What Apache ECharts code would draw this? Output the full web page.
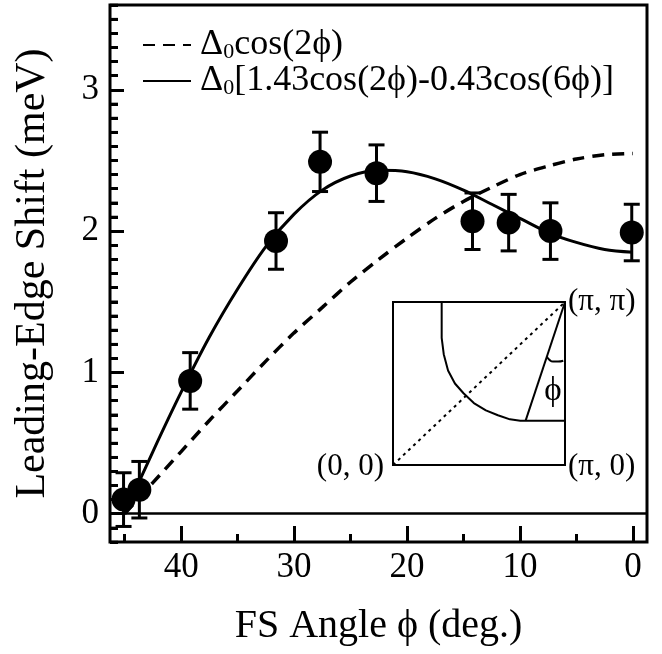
<!DOCTYPE html>
<html>
<head>
<meta charset="utf-8">
<script src="https://cdn.jsdelivr.net/npm/echarts@6/dist/echarts.min.js"></script>
<style>
  html, body { margin: 0; padding: 0; background: #fff; }
  #chart { width: 662px; height: 654px; }
</style>
</head>
<body>
<div id="chart"></div>
<script>
// measured points (FS angle in deg, leading-edge shift in meV)
const fsAngle = [45.1, 43.7, 39.2, 31.6, 27.7, 22.7, 14.2, 11.0, 7.3, 0.1];
const shift = [0.10, 0.17, 0.94, 1.93, 2.49, 2.41, 2.07, 2.06, 2.00, 1.99];
const shiftErr = [0.19, 0.20, 0.20, 0.20, 0.21, 0.20, 0.20, 0.20, 0.20, 0.20];

// fitted curves
const curveAngle = [45, 42.5, 40, 37.5, 35, 32.5, 30, 27.5, 25, 22.5, 20, 17.5, 15, 12.5, 10, 7.5, 5, 2.5, 0];
const dwaveShift = [0, 0.22, 0.44, 0.66, 0.87, 1.08, 1.28, 1.46, 1.64, 1.80, 1.95, 2.09, 2.21, 2.31, 2.40, 2.46, 2.51, 2.54, 2.55];
const mixedShift = [0, 0.44, 0.86, 1.25, 1.59, 1.89, 2.12, 2.29, 2.39, 2.43, 2.42, 2.37, 2.29, 2.19, 2.09, 1.99, 1.92, 1.87, 1.85];

const xMajor = [0, 10, 20, 30, 40];
const xMinor = [5, 15, 25, 35, 45];
const yMajor = [0, 1, 2, 3];

// inset: quarter of the zone, in units of pi
const fsX = [0.283, 0.283, 0.295, 0.32, 0.36, 0.41, 0.47, 0.54, 0.61, 0.68, 0.74, 1.0];
const fsY = [1.0, 0.78, 0.68, 0.58, 0.50, 0.44, 0.38, 0.335, 0.305, 0.28, 0.272, 0.272];
const diagX = [0, 1];
const diagY = [0, 1];
const phiX = [1, 0.771];
const phiY = [1, 0.272];
const arcX = [0.895, 0.91, 0.93, 0.96, 0.99];
const arcY = [0.665, 0.645, 0.635, 0.635, 0.64];

const FONT = '"Liberation Serif", "Times New Roman", serif';
const zip = (a, b) => a.map((v, i) => [v, b[i]]);

const NAME_D = 'Δ0cos(2ϕ)';
const NAME_M = 'Δ0[1.43cos(2ϕ)-0.43cos(6ϕ)]';

const X_MIN = -1.25, X_MAX = 46.3;
const Y_MIN = -0.2, Y_MAX = 3.6;
const plotBox = { left: 110, top: 5, right: 15, bottom: 112 };

// short left-edge ticks every 0.1 meV
const yMinor = [];
for (let i = -2; i <= 36; i++) {
  if (i % 10 !== 0) yMinor.push(i / 10);
}

const chart = echarts.init(document.getElementById('chart'));

const option = {
  animation: false,
  backgroundColor: '#fff',
  legend: {
    orient: 'vertical',
    left: 137,
    top: 22,
    itemWidth: 48,
    itemHeight: 14,
    itemGap: 0,
    selectedMode: false,
    itemStyle: { opacity: 0 },
    data: [NAME_D, NAME_M],
    formatter: function (name) {
      return '{a|Δ}{s|0}{a|' + name.slice(2) + '}';
    },
    textStyle: {
      padding: [0, 0, 0, 4],
      rich: {
        a: { fontFamily: FONT, fontSize: 36, lineHeight: 36, color: '#000' },
        s: { fontFamily: FONT, fontSize: 22, lineHeight: 12, verticalAlign: 'bottom', color: '#000' }
      }
    }
  },
  grid: [
    Object.assign({ show: true, borderColor: '#000', borderWidth: 3 }, plotBox),
    { left: 393, top: 302, width: 172, height: 163, show: true, borderColor: '#000', borderWidth: 2 },
    // same box again, carrying the extra set of ticks
    Object.assign({ show: false }, plotBox)
  ],
  xAxis: [
    {
      type: 'value', gridIndex: 0, inverse: true, min: X_MIN, max: X_MAX,
      axisLine: { show: false, onZero: false },
      splitLine: { show: false },
      axisTick: { inside: true, length: 16, customValues: xMajor, lineStyle: { color: '#000', width: 3 } },
      axisLabel: { customValues: xMajor, fontFamily: FONT, fontSize: 35, color: '#000', margin: 8 },
      name: 'FS Angle ϕ (deg.)',
      nameLocation: 'middle',
      nameGap: 64,
      nameTextStyle: { fontFamily: FONT, fontSize: 40, color: '#000' }
    },
    { type: 'value', gridIndex: 1, min: 0, max: 1, show: false },
    {
      type: 'value', gridIndex: 2, inverse: true, min: X_MIN, max: X_MAX,
      axisLine: { show: false, onZero: false },
      splitLine: { show: false },
      axisTick: { inside: true, length: 8, customValues: xMinor, lineStyle: { color: '#000', width: 3 } },
      axisLabel: { show: false }
    }
  ],
  yAxis: [
    {
      type: 'value', gridIndex: 0, min: Y_MIN, max: Y_MAX, interval: 0.1,
      axisLine: { show: false, onZero: false },
      splitLine: { show: false },
      axisTick: { show: true, inside: true, length: 8, interval: 0, lineStyle: { color: '#000', width: 3 } },
      axisLabel: { customValues: yMajor, fontFamily: FONT, fontSize: 35, color: '#000', margin: 11 },
      name: 'Leading-Edge Shift (meV)',
      nameLocation: 'middle',
      nameGap: 56,
      nameTextStyle: { fontFamily: FONT, fontSize: 42, color: '#000' }
    },
    { type: 'value', gridIndex: 1, min: 0, max: 1, show: false },
    {
      type: 'value', gridIndex: 2, min: Y_MIN, max: Y_MAX,
      axisLine: { show: false, onZero: false },
      splitLine: { show: false },
      axisTick: { show: true, inside: true, length: 14, customValues: yMajor, lineStyle: { color: '#000', width: 3 } },
      axisLabel: { show: false }
    }
  ],
  series: [
    {
      name: NAME_D,
      type: 'line',
      xAxisIndex: 0, yAxisIndex: 0,
      data: zip(curveAngle, dwaveShift),
      symbol: 'none',
      smooth: 0.3,
      lineStyle: { color: '#000', width: 3.5, type: [12, 8] },
      itemStyle: { color: '#000' }
    },
    {
      name: NAME_M,
      type: 'line',
      xAxisIndex: 0, yAxisIndex: 0,
      data: zip(curveAngle, mixedShift),
      symbol: 'none',
      smooth: 0.3,
      lineStyle: { color: '#000', width: 3 },
      itemStyle: { color: '#000' },
      markLine: {
        silent: true,
        symbol: ['none', 'none'],
        label: { show: false },
        lineStyle: { color: '#000', width: 2.5, type: 'solid' },
        data: [{ yAxis: 0 }]
      }
    },
    {
      name: 'data',
      type: 'scatter',
      xAxisIndex: 0, yAxisIndex: 0,
      data: zip(fsAngle, shift),
      symbol: 'circle',
      symbolSize: 24,
      itemStyle: { color: '#000', opacity: 1 },
      z: 4
    },
    {
      name: 'err',
      type: 'custom',
      xAxisIndex: 0, yAxisIndex: 0,
      data: fsAngle.map((a, i) => [a, shift[i], shiftErr[i]]),
      encode: { x: 0, y: 1 },
      z: 5,
      renderItem: function (params, api) {
        const x = api.value(0), y = api.value(1), e = api.value(2);
        const top = api.coord([x, y + e]);
        const bot = api.coord([x, y - e]);
        const w = 8;
        const st = { stroke: '#000', lineWidth: 3 };
        return {
          type: 'group',
          children: [
            { type: 'line', shape: { x1: top[0], y1: top[1], x2: bot[0], y2: bot[1] }, style: st },
            { type: 'line', shape: { x1: top[0] - w, y1: top[1], x2: top[0] + w, y2: top[1] }, style: st },
            { type: 'line', shape: { x1: bot[0] - w, y1: bot[1], x2: bot[0] + w, y2: bot[1] }, style: st }
          ]
        };
      }
    },
    {
      // minor ticks on the left edge, placed through the axis scale
      name: 'yMinorTicks',
      type: 'custom',
      xAxisIndex: 0, yAxisIndex: 0,
      silent: true,
      clip: false,
      data: yMinor.map(v => [X_MAX, v]),
      encode: { x: 0, y: 1 },
      z: 6,
      renderItem: function (params, api) {
        const p = api.coord([api.value(0), api.value(1)]);
        return {
          type: 'line',
          shape: { x1: p[0], y1: p[1], x2: p[0] + 8, y2: p[1] },
          style: { stroke: '#000', lineWidth: 2.5 }
        };
      }
    },
    {
      type: 'line', xAxisIndex: 1, yAxisIndex: 1,
      data: zip(fsX, fsY), symbol: 'none',
      lineStyle: { color: '#000', width: 2 }
    },
    {
      type: 'line', xAxisIndex: 1, yAxisIndex: 1,
      data: zip(diagX, diagY), symbol: 'none',
      lineStyle: { color: '#000', width: 2, type: [3, 4] }
    },
    {
      type: 'line', xAxisIndex: 1, yAxisIndex: 1,
      data: zip(phiX, phiY), symbol: 'none',
      lineStyle: { color: '#000', width: 2 }
    },
    {
      type: 'line', xAxisIndex: 1, yAxisIndex: 1,
      data: zip(arcX, arcY), symbol: 'none', smooth: true,
      lineStyle: { color: '#000', width: 2 }
    }
  ],
  graphic: [
    { type: 'text', x: 568, y: 302, style: { text: '(π, π)', font: '31px ' + FONT, fill: '#000', align: 'left', verticalAlign: 'middle' } },
    { type: 'text', x: 384, y: 467, style: { text: '(0, 0)', font: '31px ' + FONT, fill: '#000', align: 'right', verticalAlign: 'middle' } },
    { type: 'text', x: 568, y: 467, style: { text: '(π, 0)', font: '31px ' + FONT, fill: '#000', align: 'left', verticalAlign: 'middle' } },
    { type: 'text', x: 553, y: 391, style: { text: 'ϕ', font: '33px ' + FONT, fill: '#000', align: 'center', verticalAlign: 'middle' } }
  ]
};

chart.setOption(option);
</script>
</body>
</html>
